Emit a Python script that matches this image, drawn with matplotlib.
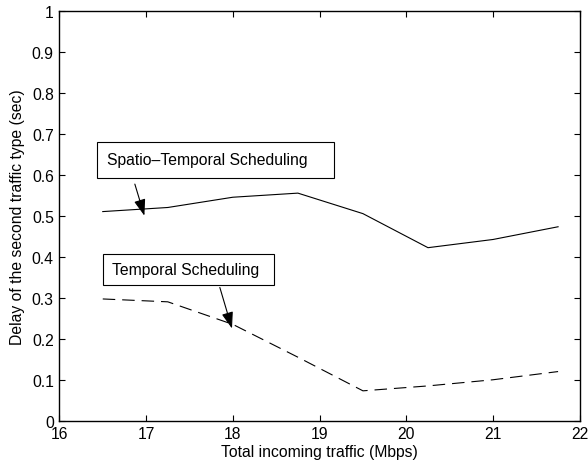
import numpy as np
import matplotlib.pyplot as plt
from matplotlib.patches import Rectangle

plt.rcParams['font.family'] = ['Liberation Sans', 'DejaVu Sans']
plt.rcParams['lines.scale_dashes'] = False

traffic = [16.5, 17.25, 18.0, 18.75, 19.5, 20.25, 21.0, 21.75]
delay_spatio = [0.51, 0.52, 0.545, 0.555, 0.505, 0.422, 0.442, 0.473]
delay_temporal = [0.297, 0.29, 0.235, 0.155, 0.073, 0.085, 0.1, 0.12]

xticks = [16, 17, 18, 19, 20, 21, 22]
yticks = np.round(np.arange(0, 1.01, 0.1), 1)
ylabels = ['0'] + [f'{v:g}' for v in yticks[1:-1]] + ['1']

fs = 11.3

fig = plt.figure(figsize=(5.88, 4.64), dpi=100)
ax = fig.add_axes([0.101, 0.091, 0.885, 0.884])

ax.plot(traffic, delay_spatio, color='black', lw=0.8)
ax.plot(traffic, delay_temporal, color='black', lw=0.8, linestyle=(0, (9, 5)))

ax.set_xlim(16, 22)
ax.set_ylim(0, 1)
ax.set_xticks(xticks)
ax.set_yticks(yticks)
ax.set_yticklabels(ylabels)
ax.tick_params(direction='in', length=4, width=0.8, top=True, right=True,
               labelsize=fs)
ax.tick_params(axis='x', pad=4)
ax.tick_params(axis='y', pad=4)
for s in ax.spines.values():
    s.set_linewidth(1.0)

ax.set_xlabel('Total incoming traffic (Mbps)', fontsize=fs, labelpad=2)
ax.set_ylabel('Delay of the second traffic type (sec)', fontsize=fs, labelpad=5)

# annotation boxes
ax.add_patch(Rectangle((16.436, 0.592), 19.17 - 16.436, 0.680 - 0.592,
                       fc='white', ec='black', lw=0.8, zorder=4))
ax.text(16.544, 0.636, 'Spatio\u2013Temporal Scheduling', fontsize=fs,
        ha='left', va='center', zorder=5)
ax.add_patch(Rectangle((16.505, 0.331), 18.477 - 16.505, 0.406 - 0.331,
                       fc='white', ec='black', lw=0.8, zorder=4))
ax.text(16.602, 0.3686, 'Temporal Scheduling', fontsize=fs,
        ha='left', va='center', zorder=5)

arrow = dict(arrowstyle='-|>,head_length=1.0,head_width=0.35', color='black',
             lw=0.8, shrinkA=0, shrinkB=0)
ax.annotate('', xy=(16.98, 0.5), xytext=(16.87, 0.577), arrowprops=arrow)
ax.annotate('', xy=(17.99, 0.225), xytext=(17.85, 0.325), arrowprops=arrow)

fig.savefig('out.png', dpi=100)
